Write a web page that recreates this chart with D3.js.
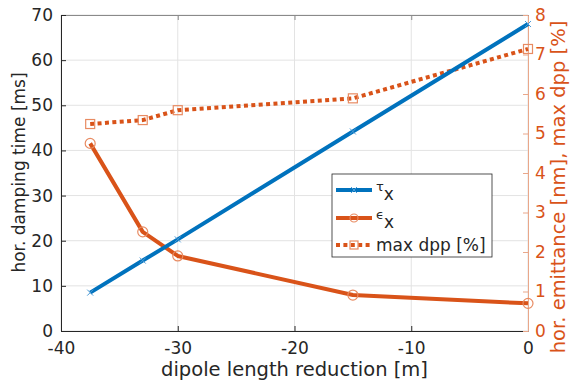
<!DOCTYPE html>
<html>
<head>
<meta charset="utf-8">
<script src="https://cdn.jsdelivr.net/npm/d3@7"></script>
<style>
  html, body { margin: 0; padding: 0; background: #fff; }
  text { font-family: "DejaVu Sans", sans-serif; }
</style>
</head>
<body>
<svg id="chart" width="570" height="385"></svg>
<script>
// Dipole length reduction scan
const reduction = [-37.5, -33, -30, -15, 0];          // m
const dampingTime = [8.5, 15.6, 20.3, 44.2, 68.0];     // ms
const emittance = [4.75, 2.51, 1.90, 0.91, 0.70];      // nm
const maxDpp = [5.24, 5.34, 5.59, 5.89, 7.14];         // %

const xTicks = [-40, -30, -20, -10, 0];
const yLeftTicks = [0, 10, 20, 30, 40, 50, 60, 70];
const yRightTicks = [0, 1, 2, 3, 4, 5, 6, 7, 8];

const blue = "#0072BD", orange = "#D95319";
const margin = { left: 61, right: 42, top: 15, bottom: 54 };
const W = 570, H = 385;

const svg = d3.select("#chart");
const x = d3.scaleLinear().domain([-40, 0]).range([margin.left, W - margin.right]);
const yL = d3.scaleLinear().domain([0, 70]).range([H - margin.bottom, margin.top]);
const yR = d3.scaleLinear().domain([0, 8]).range([H - margin.bottom, margin.top]);

const x0 = x.range()[0], x1 = x.range()[1], yb = yL.range()[0], yt = yL.range()[1];
const plain = d => String(d);

// grid
const grid = svg.append("g").attr("stroke", "#e3e3e3").attr("stroke-width", 1);
xTicks.forEach(t => grid.append("line").attr("x1", x(t)).attr("x2", x(t)).attr("y1", yb).attr("y2", yt));
yLeftTicks.forEach(t => grid.append("line").attr("x1", x0).attr("x2", x1).attr("y1", yL(t)).attr("y2", yL(t)));

// axes
const tickFont = 17;
const gx = svg.append("g").attr("transform", `translate(0,${yb})`)
  .call(d3.axisBottom(x).tickValues(xTicks).tickFormat(plain).tickSize(-5).tickPadding(11).tickSizeOuter(0));
const gxTop = svg.append("g").attr("transform", `translate(0,${yt})`)
  .call(d3.axisTop(x).tickValues(xTicks).tickSize(-5).tickFormat("").tickSizeOuter(0));
const gyL = svg.append("g").attr("transform", `translate(${x0},0)`)
  .call(d3.axisLeft(yL).tickValues(yLeftTicks).tickFormat(plain).tickSize(-5).tickPadding(8).tickSizeOuter(0));
const gyR = svg.append("g").attr("transform", `translate(${x1},0)`)
  .call(d3.axisRight(yR).tickValues(yRightTicks).tickFormat(plain).tickSize(-5).tickPadding(7).tickSizeOuter(0));

[gx, gxTop, gyL].forEach(g => {
  g.selectAll("path,line").attr("stroke", "#262626").attr("stroke-width", 1);
  g.selectAll("text").attr("fill", "#262626").attr("font-size", tickFont)
    .attr("font-family", "DejaVu Sans, sans-serif");
});
gxTop.select("path").attr("stroke", "#8a8a8a");
gxTop.selectAll("line").attr("stroke", "#8a8a8a");
gyR.selectAll("path,line").attr("stroke", "#E9A78A").attr("stroke-width", 1);
gyR.selectAll("text").attr("fill", orange).attr("font-size", tickFont)
  .attr("font-family", "DejaVu Sans, sans-serif");

// axis labels
svg.append("text").attr("x", (x0 + x1) / 2).attr("y", 376).attr("text-anchor", "middle")
  .attr("font-size", 19.5).attr("fill", "#262626").text("dipole length reduction [m]");
svg.append("text").attr("transform", `translate(25,172.5) rotate(-90)`)
  .attr("text-anchor", "middle").attr("font-size", 17).attr("fill", "#262626")
  .text("hor. damping time [ms]");
svg.append("text").attr("transform", `translate(565,187) rotate(-90)`)
  .attr("text-anchor", "middle").attr("font-size", 19.5).attr("fill", orange)
  .text("hor. emittance [nm], max dpp [%]");

// series
const lineL = d3.line().x((d, i) => x(reduction[i])).y(d => yL(d));
const lineR = d3.line().x((d, i) => x(reduction[i])).y(d => yR(d));

// max dpp (dotted, squares)
svg.append("path").datum(maxDpp).attr("d", lineR).attr("fill", "none")
  .attr("stroke", orange).attr("stroke-width", 4).attr("stroke-dasharray", "4,3.4");
svg.append("g").selectAll("rect").data(maxDpp).join("rect")
  .attr("x", (d, i) => x(reduction[i]) - 4.5).attr("y", d => yR(d) - 4.5)
  .attr("width", 9).attr("height", 9).attr("fill", "none").attr("stroke", "#E88B62").attr("stroke-width", 1.2);

// emittance (solid, circles)
svg.append("path").datum(emittance).attr("d", lineR).attr("fill", "none")
  .attr("stroke", orange).attr("stroke-width", 4).attr("stroke-linejoin", "round");
svg.append("g").selectAll("circle").data(emittance).join("circle")
  .attr("cx", (d, i) => x(reduction[i])).attr("cy", d => yR(d)).attr("r", 5)
  .attr("fill", "none").attr("stroke", "#E88B62").attr("stroke-width", 1.2);

// damping time (solid, x markers)
svg.append("path").datum(dampingTime).attr("d", lineL).attr("fill", "none")
  .attr("stroke", blue).attr("stroke-width", 4);
const xm = svg.append("g").attr("stroke", "#4A9AD6").attr("stroke-width", 1);
dampingTime.forEach((d, i) => {
  const cx = x(reduction[i]), cy = yL(d), s = 3;
  xm.append("line").attr("x1", cx - s).attr("y1", cy - s).attr("x2", cx + s).attr("y2", cy + s);
  xm.append("line").attr("x1", cx - s).attr("y1", cy + s).attr("x2", cx + s).attr("y2", cy - s);
});

// legend
const lg = svg.append("g").attr("transform", "translate(332,174)");
lg.append("rect").attr("width", 160).attr("height", 83).attr("fill", "#fff")
  .attr("stroke", "#262626").attr("stroke-width", 0.8);
const rows = [
  { y: 16, dash: null, marker: "x", color: blue, label: ["τ", "x"] },
  { y: 44, dash: null, marker: "o", color: orange, label: ["ϵ", "x"] },
  { y: 71, dash: "4,3.4", marker: "s", color: orange, label: ["max dpp [%]"] }
];
rows.forEach(r => {
  lg.append("line").attr("x1", 4).attr("x2", 40).attr("y1", r.y).attr("y2", r.y)
    .attr("stroke", r.color).attr("stroke-width", 4).attr("stroke-dasharray", r.dash);
  const cx = 22;
  if (r.marker === "x") {
    lg.append("line").attr("x1", cx - 3).attr("x2", cx + 3).attr("y1", r.y - 3).attr("y2", r.y + 3).attr("stroke", "#4A9AD6");
    lg.append("line").attr("x1", cx - 3).attr("x2", cx + 3).attr("y1", r.y + 3).attr("y2", r.y - 3).attr("stroke", "#4A9AD6");
  } else if (r.marker === "o") {
    lg.append("circle").attr("cx", cx).attr("cy", r.y).attr("r", 4).attr("fill", "none")
      .attr("stroke", "#E88B62").attr("stroke-width", 1.2);
  } else {
    lg.append("rect").attr("x", cx - 4).attr("y", r.y - 4).attr("width", 8).attr("height", 8)
      .attr("fill", "none").attr("stroke", "#E88B62").attr("stroke-width", 1.2);
  }
  if (r.label.length === 2) {
    const t = lg.append("text").attr("x", 44).attr("y", r.y + 1).attr("fill", "#262626");
    t.append("tspan").attr("font-size", 13).text(r.label[0]);
    t.append("tspan").attr("font-size", 17).attr("dy", 9).text(r.label[1]);
  } else {
    lg.append("text").attr("x", 44).attr("y", r.y + 6).attr("font-size", 17)
      .attr("fill", "#262626").text(r.label[0]);
  }
});
</script>
</body>
</html>
